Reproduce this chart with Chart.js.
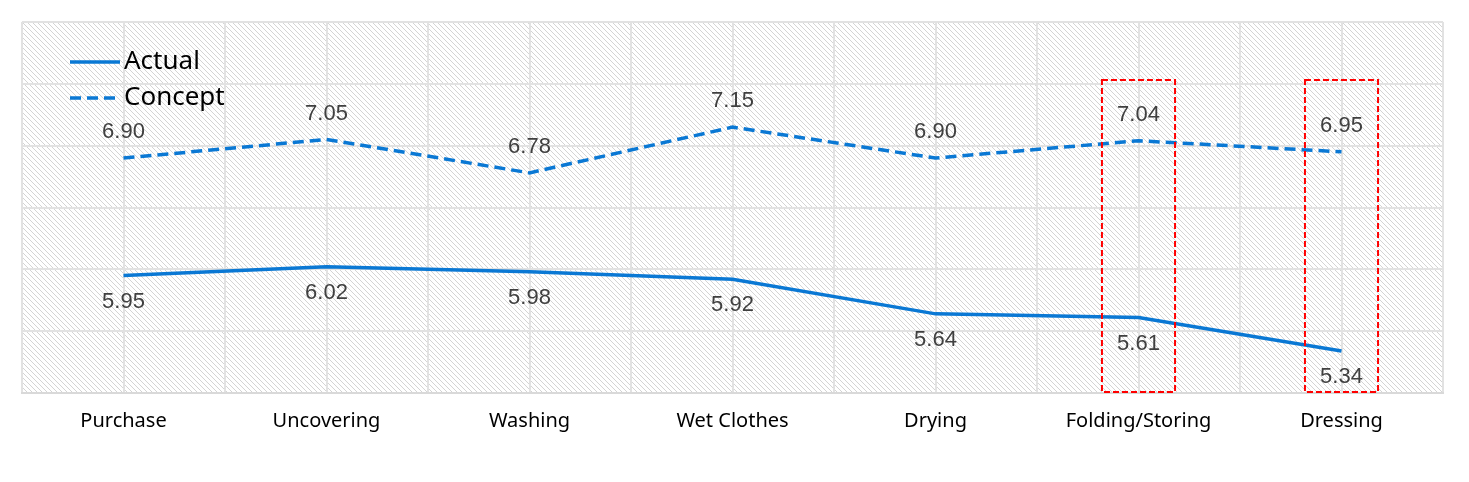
<!DOCTYPE html>
<html>
<head>
<meta charset="utf-8">
<script src="https://cdn.jsdelivr.net/npm/chart.js@4.4.1/dist/chart.umd.min.js"></script>
<style>
html,body{margin:0;padding:0;background:#fff;}
#wrap{width:1469px;height:482px;position:relative;}
</style>
</head>
<body>
<div id="wrap"><canvas id="c"></canvas></div>
<script>
const categories = ['Purchase','Uncovering','Washing','Wet Clothes','Drying','Folding/Storing','Dressing'];
const actualValues = [5.95, 6.02, 5.98, 5.92, 5.64, 5.61, 5.34];
const conceptValues = [6.90, 7.05, 6.78, 7.15, 6.90, 7.04, 6.95];
const highlightedCategories = ['Folding/Storing','Dressing'];
const yMin = 5, yMax = 8, yStep = 0.5;

const BLUE = '#0A78D4';

function makeHatch(){
  const s = 5;
  const p = document.createElement('canvas');
  p.width = s; p.height = s;
  const g = p.getContext('2d');
  g.fillStyle = '#ffffff';
  g.fillRect(0,0,s,s);
  g.strokeStyle = '#d4d4d4';
  g.lineWidth = 1;
  g.beginPath();
  g.moveTo(-1,-1); g.lineTo(s+1,s+1);
  g.moveTo(-1,s-1); g.lineTo(1,s+1);
  g.moveTo(s-1,-1); g.lineTo(s+1,1);
  g.stroke();
  return p;
}

const bgPlugin = {
  id:'hatchBg',
  beforeDraw(chart){
    const {ctx, chartArea:a} = chart;
    ctx.save();
    ctx.fillStyle = ctx.createPattern(makeHatch(),'repeat');
    ctx.fillRect(a.left,a.top,a.right-a.left,a.bottom-a.top);
    ctx.restore();
  }
};

const labelPlugin = {
  id:'valueLabels',
  afterDatasetsDraw(chart){
    const ctx = chart.ctx;
    ctx.save();
    ctx.font = '22px "Liberation Sans", Arial, sans-serif';
    ctx.fillStyle = '#404040';
    ctx.textAlign = 'center';
    ctx.textBaseline = 'middle';
    chart.data.datasets.forEach((ds,di)=>{
      const meta = chart.getDatasetMeta(di);
      meta.data.forEach((pt,i)=>{
        const v = ds.data[i].y;
        const off = ds.labelPos === 'above' ? -26 : 26;
        ctx.fillText(v.toFixed(2), pt.x, pt.y + off);
      });
    });
    ctx.restore();
  }
};

const boxPlugin = {
  id:'highlightBoxes',
  afterDraw(chart){
    const ctx = chart.ctx, xs = chart.scales.x, ys = chart.scales.y;
    ctx.save();
    ctx.strokeStyle = '#FF0000';
    ctx.lineWidth = 2;
    ctx.setLineDash([6,3]);
    highlightedCategories.forEach(c=>{
      const i = categories.indexOf(c);
      const x1 = xs.getPixelForValue(i-0.18), x2 = xs.getPixelForValue(i+0.18);
      const y1 = ys.getPixelForValue(7.53), y2 = ys.getPixelForValue(5.0);
      ctx.strokeRect(x1, y1, x2-x1, y2-y1-1);
    });
    ctx.restore();
  }
};

const legendPlugin = {
  id:'innerLegend',
  afterDraw(chart){
    const ctx = chart.ctx, a = chart.chartArea;
    ctx.save();
    const items = chart.data.datasets;
    items.forEach((ds,k)=>{
      const y = a.top + 40 + k*36;
      ctx.strokeStyle = ds.borderColor;
      ctx.lineWidth = 3.5;
      ctx.setLineDash(ds.borderDash || []);
      ctx.beginPath();
      ctx.moveTo(a.left+48, y); ctx.lineTo(a.left+98, y);
      ctx.stroke();
      ctx.setLineDash([]);
      ctx.fillStyle = '#000';
      ctx.font = '26px "Noto Sans", sans-serif';
      ctx.textBaseline = 'middle';
      ctx.textAlign = 'left';
      ctx.fillText(ds.label, a.left+102, y);
    });
    ctx.restore();
  }
};

new Chart(document.getElementById('c'), {
  type:'line',
  data:{
    datasets:[
      {label:'Actual', data:categories.map((c,i)=>({x:i,y:actualValues[i]})), borderColor:BLUE, borderWidth:3.5, pointRadius:0, labelPos:'below', tension:0},
      {label:'Concept', data:categories.map((c,i)=>({x:i,y:conceptValues[i]})), borderColor:BLUE, borderWidth:3.5, borderDash:[11,6], pointRadius:0, labelPos:'above', tension:0}
    ]
  },
  options:{
    responsive:true, maintainAspectRatio:false, animation:false,
    layout:{padding:{left:22, right:26, top:22, bottom:33}},
    plugins:{legend:{display:false}, tooltip:{enabled:false}},
    scales:{
      x:{type:'linear', min:-0.5, max:6.5,
        grid:{color:'#e2e2e2', lineWidth:2, drawTicks:false},
        border:{color:'#d9d9d9', width:2},
        ticks:{stepSize:0.5, autoSkip:false, maxRotation:0, padding:16, color:'#000',
          font:{family:'"Noto Sans", sans-serif', size:20},
          callback:(v)=> Number.isInteger(v) ? categories[v] : ''}
      },
      y:{min:yMin, max:yMax,
        grid:{color:'#e2e2e2', lineWidth:2, drawTicks:false},
        border:{display:false},
        ticks:{stepSize:yStep, display:false}
      }
    }
  },
  plugins:[bgPlugin, labelPlugin, boxPlugin, legendPlugin]
});
</script>
</body>
</html>
